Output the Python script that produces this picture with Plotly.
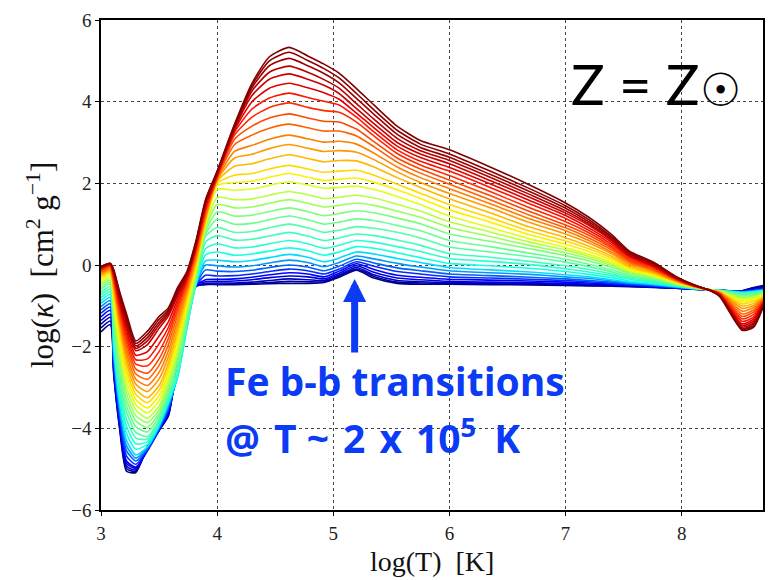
import numpy as np
import plotly.graph_objects as go

# ---------------- data ----------------
# temperature grids, in three parts
logT_cool = [3.00, 3.08, 3.11, 3.16, 3.22, 3.30, 3.40, 3.50, 3.58, 3.66, 3.74, 3.82, 3.90]
logT_mid = [4.00, 4.15, 4.30, 4.45, 4.62, 4.78, 4.92, 5.05, 5.20, 5.35, 5.55, 5.75]
logT_hot = [6.00, 6.35, 6.69, 7.00, 7.20, 7.40, 7.55, 7.75, 7.95, 8.10, 8.25, 8.33, 8.52, 8.62, 8.70]

# cool part: one row per curve (top/dark-red curve first)
kappa_cool = [
    [-0.04, 0.04, -0.12, -0.65, -1.20, -1.86, -1.62, -1.26, -1.05, -0.55, -0.16, 0.62, 1.60],
    [-0.04, 0.04, -0.14, -0.70, -1.28, -1.92, -1.70, -1.33, -1.10, -0.60, -0.19, 0.59, 1.57],
    [-0.05, 0.03, -0.16, -0.75, -1.35, -1.98, -1.78, -1.40, -1.15, -0.65, -0.22, 0.56, 1.54],
    [-0.05, 0.03, -0.18, -0.80, -1.42, -2.04, -1.86, -1.47, -1.20, -0.70, -0.25, 0.53, 1.51],
    [-0.07, 0.02, -0.20, -0.85, -1.50, -2.10, -1.95, -1.55, -1.25, -0.75, -0.28, 0.50, 1.48],
    [-0.08, 0.01, -0.24, -0.92, -1.60, -2.21, -2.12, -1.74, -1.39, -0.84, -0.32, 0.46, 1.43],
    [-0.10, -0.01, -0.28, -1.00, -1.70, -2.32, -2.30, -1.93, -1.53, -0.93, -0.37, 0.42, 1.39],
    [-0.12, -0.02, -0.31, -1.07, -1.80, -2.43, -2.47, -2.12, -1.66, -1.01, -0.41, 0.39, 1.34],
    [-0.14, -0.04, -0.35, -1.15, -1.90, -2.55, -2.65, -2.30, -1.80, -1.10, -0.45, 0.35, 1.30],
    [-0.17, -0.07, -0.41, -1.24, -2.02, -2.67, -2.80, -2.46, -1.95, -1.22, -0.52, 0.29, 1.25],
    [-0.20, -0.10, -0.47, -1.32, -2.15, -2.80, -2.95, -2.63, -2.10, -1.35, -0.60, 0.23, 1.20],
    [-0.23, -0.13, -0.54, -1.41, -2.27, -2.92, -3.10, -2.79, -2.25, -1.47, -0.67, 0.16, 1.15],
    [-0.26, -0.16, -0.60, -1.50, -2.40, -3.05, -3.25, -2.95, -2.40, -1.60, -0.75, 0.10, 1.10],
    [-0.30, -0.19, -0.70, -1.65, -2.55, -3.17, -3.37, -3.07, -2.51, -1.72, -0.84, 0.04, 1.06],
    [-0.35, -0.23, -0.80, -1.80, -2.70, -3.30, -3.50, -3.20, -2.62, -1.85, -0.92, -0.02, 1.03],
    [-0.39, -0.27, -0.90, -1.95, -2.85, -3.42, -3.62, -3.32, -2.74, -1.97, -1.01, -0.09, 0.99],
    [-0.44, -0.32, -1.00, -2.10, -3.00, -3.55, -3.75, -3.45, -2.85, -2.10, -1.10, -0.15, 0.95],
    [-0.49, -0.37, -1.15, -2.28, -3.15, -3.69, -3.86, -3.54, -2.94, -2.21, -1.17, -0.20, 0.89],
    [-0.55, -0.42, -1.30, -2.45, -3.30, -3.82, -3.98, -3.63, -3.03, -2.32, -1.25, -0.25, 0.82],
    [-0.60, -0.47, -1.45, -2.63, -3.45, -3.96, -4.09, -3.71, -3.11, -2.44, -1.32, -0.30, 0.76],
    [-0.67, -0.53, -1.60, -2.80, -3.60, -4.10, -4.20, -3.80, -3.20, -2.55, -1.40, -0.35, 0.70],
    [-0.73, -0.59, -1.72, -2.95, -3.78, -4.24, -4.26, -3.84, -3.25, -2.60, -1.44, -0.38, 0.56],
    [-0.80, -0.65, -1.85, -3.10, -3.95, -4.38, -4.33, -3.88, -3.30, -2.65, -1.48, -0.40, 0.40],
    [-0.87, -0.72, -1.97, -3.25, -4.13, -4.51, -4.39, -3.91, -3.35, -2.70, -1.51, -0.43, 0.25],
    [-0.94, -0.79, -2.10, -3.40, -4.30, -4.65, -4.45, -3.95, -3.40, -2.75, -1.55, -0.45, 0.10],
    [-1.02, -0.87, -2.20, -3.50, -4.43, -4.73, -4.47, -3.97, -3.45, -2.70, -1.45, -0.46, 0.00],
    [-1.10, -0.95, -2.30, -3.60, -4.55, -4.80, -4.50, -4.00, -3.50, -2.65, -1.35, -0.47, -0.12],
    [-1.18, -1.03, -2.40, -3.70, -4.68, -4.88, -4.52, -4.02, -3.55, -2.58, -1.25, -0.49, -0.25],
    [-1.27, -1.11, -2.50, -3.80, -4.80, -4.95, -4.55, -4.05, -3.60, -2.50, -1.15, -0.50, -0.36],
    [-1.36, -1.20, -2.55, -3.85, -4.86, -4.98, -4.52, -4.05, -3.63, -2.45, -1.10, -0.50, -0.41],
    [-1.45, -1.28, -2.60, -3.90, -4.93, -5.02, -4.50, -4.05, -3.65, -2.40, -1.05, -0.51, -0.45],
    [-1.54, -1.37, -2.65, -3.95, -4.99, -5.05, -4.47, -4.05, -3.68, -2.35, -1.00, -0.52, -0.47],
    [-1.64, -1.46, -2.70, -4.00, -5.05, -5.08, -4.45, -4.05, -3.70, -2.30, -0.95, -0.52, -0.48],
]

# middle part: one row per curve (Fe bump region)
kappa_mid = [
    [2.30, 3.45, 4.45, 5.10, 5.33, 5.12, 4.92, 4.70, 4.32, 3.92, 3.40, 3.05],
    [2.28, 3.42, 4.40, 5.00, 5.21, 5.01, 4.81, 4.58, 4.20, 3.80, 3.30, 2.96],
    [2.26, 3.39, 4.34, 4.88, 5.06, 4.88, 4.69, 4.46, 4.08, 3.69, 3.20, 2.88],
    [2.24, 3.36, 4.26, 4.72, 4.87, 4.72, 4.54, 4.33, 3.95, 3.57, 3.10, 2.80],
    [2.22, 3.33, 4.15, 4.55, 4.68, 4.55, 4.40, 4.20, 3.83, 3.46, 3.00, 2.72],
    [2.20, 3.30, 4.00, 4.33, 4.45, 4.34, 4.22, 4.06, 3.72, 3.36, 2.91, 2.63],
    [2.18, 3.25, 3.82, 4.09, 4.21, 4.10, 4.01, 3.92, 3.62, 3.26, 2.82, 2.54],
    [2.16, 3.18, 3.62, 3.86, 3.97, 3.86, 3.78, 3.74, 3.50, 3.16, 2.73, 2.45],
    [2.14, 3.08, 3.40, 3.60, 3.70, 3.60, 3.52, 3.50, 3.33, 3.02, 2.62, 2.35],
    [2.12, 2.95, 3.18, 3.35, 3.45, 3.36, 3.28, 3.28, 3.16, 2.90, 2.52, 2.25],
    [2.10, 2.78, 2.93, 3.08, 3.18, 3.09, 3.01, 3.03, 2.96, 2.74, 2.40, 2.14],
    [2.08, 2.62, 2.71, 2.85, 2.95, 2.86, 2.78, 2.80, 2.76, 2.58, 2.28, 2.02],
    [2.05, 2.42, 2.48, 2.60, 2.70, 2.61, 2.53, 2.56, 2.55, 2.40, 2.14, 1.90],
    [2.00, 2.20, 2.24, 2.35, 2.44, 2.35, 2.27, 2.30, 2.32, 2.20, 1.98, 1.76],
    [1.95, 2.02, 2.05, 2.15, 2.24, 2.15, 2.07, 2.10, 2.13, 2.03, 1.84, 1.63],
    [1.85, 1.83, 1.86, 1.95, 2.04, 1.96, 1.88, 1.90, 1.93, 1.85, 1.68, 1.48],
    [1.65, 1.60, 1.62, 1.71, 1.80, 1.72, 1.63, 1.66, 1.71, 1.64, 1.49, 1.32],
    [1.48, 1.40, 1.42, 1.51, 1.60, 1.51, 1.42, 1.46, 1.52, 1.46, 1.32, 1.17],
    [1.30, 1.20, 1.22, 1.31, 1.40, 1.31, 1.21, 1.26, 1.33, 1.28, 1.15, 1.01],
    [1.12, 1.00, 1.02, 1.11, 1.20, 1.11, 1.00, 1.05, 1.13, 1.09, 0.97, 0.84],
    [0.92, 0.80, 0.82, 0.91, 1.00, 0.91, 0.80, 0.85, 0.94, 0.90, 0.80, 0.66],
    [0.72, 0.61, 0.63, 0.71, 0.80, 0.71, 0.60, 0.66, 0.76, 0.72, 0.61, 0.48],
    [0.52, 0.42, 0.44, 0.52, 0.60, 0.52, 0.41, 0.48, 0.60, 0.56, 0.45, 0.33],
    [0.32, 0.24, 0.27, 0.34, 0.42, 0.35, 0.24, 0.32, 0.45, 0.41, 0.30, 0.18],
    [0.12, 0.08, 0.11, 0.18, 0.26, 0.19, 0.08, 0.17, 0.32, 0.27, 0.16, 0.06],
    [-0.02, -0.05, -0.02, 0.05, 0.12, 0.06, -0.04, 0.06, 0.22, 0.15, 0.04, -0.05],
    [-0.15, -0.16, -0.13, -0.06, 0.00, -0.05, -0.14, -0.03, 0.14, 0.05, -0.07, -0.14],
    [-0.27, -0.26, -0.22, -0.16, -0.10, -0.14, -0.22, -0.10, 0.08, -0.03, -0.16, -0.22],
    [-0.35, -0.34, -0.30, -0.24, -0.19, -0.22, -0.29, -0.15, 0.03, -0.11, -0.25, -0.30],
    [-0.40, -0.39, -0.36, -0.31, -0.27, -0.29, -0.34, -0.20, -0.02, -0.18, -0.32, -0.36],
    [-0.44, -0.44, -0.42, -0.38, -0.34, -0.36, -0.38, -0.24, -0.06, -0.24, -0.38, -0.41],
    [-0.47, -0.46, -0.45, -0.43, -0.40, -0.41, -0.41, -0.27, -0.10, -0.28, -0.42, -0.44],
    [-0.48, -0.48, -0.47, -0.46, -0.45, -0.45, -0.43, -0.30, -0.13, -0.32, -0.45, -0.47],
]

# hot part: one column per temperature of logT_hot (33 curves, top curve first)
kappa_hot = [
    [2.82, 2.72, 2.64, 2.56, 2.48, 2.39, 2.30, 2.19, 2.08, 1.98, 1.87, 1.75, 1.62, 1.48, 1.35, 1.20, 1.06, 0.92, 0.76, 0.60, 0.44, 0.28, 0.16, 0.04, -0.06, -0.14, -0.22, -0.29, -0.35, -0.40, -0.43, -0.45, -0.47],
    [2.40, 2.30, 2.22, 2.15, 2.07, 1.99, 1.90, 1.80, 1.70, 1.60, 1.50, 1.40, 1.28, 1.16, 1.05, 0.92, 0.81, 0.70, 0.58, 0.45, 0.32, 0.19, 0.09, -0.02, -0.12, -0.19, -0.26, -0.32, -0.37, -0.42, -0.44, -0.46, -0.48],
    [1.96, 1.87, 1.80, 1.73, 1.66, 1.58, 1.50, 1.40, 1.31, 1.22, 1.13, 1.04, 0.93, 0.83, 0.74, 0.64, 0.56, 0.48, 0.40, 0.29, 0.20, 0.09, 0.01, -0.08, -0.17, -0.23, -0.30, -0.35, -0.39, -0.43, -0.45, -0.47, -0.49],
    [1.52, 1.45, 1.39, 1.33, 1.27, 1.21, 1.14, 1.06, 0.98, 0.91, 0.84, 0.76, 0.67, 0.59, 0.51, 0.43, 0.37, 0.30, 0.23, 0.14, 0.07, -0.02, -0.09, -0.16, -0.24, -0.29, -0.34, -0.38, -0.42, -0.45, -0.47, -0.48, -0.50],
    [1.17, 1.11, 1.06, 1.01, 0.97, 0.91, 0.85, 0.79, 0.73, 0.66, 0.60, 0.54, 0.46, 0.40, 0.33, 0.26, 0.21, 0.16, 0.10, 0.02, -0.04, -0.11, -0.17, -0.23, -0.29, -0.33, -0.38, -0.41, -0.44, -0.47, -0.48, -0.50, -0.51],
    [0.74, 0.69, 0.66, 0.62, 0.59, 0.55, 0.50, 0.45, 0.41, 0.36, 0.31, 0.27, 0.21, 0.16, 0.11, 0.06, 0.02, -0.02, -0.06, -0.12, -0.17, -0.22, -0.26, -0.31, -0.36, -0.39, -0.42, -0.45, -0.47, -0.49, -0.50, -0.51, -0.52],
    [0.34, 0.31, 0.28, 0.26, 0.23, 0.21, 0.18, 0.14, 0.11, 0.08, 0.05, 0.01, -0.03, -0.06, -0.09, -0.13, -0.16, -0.19, -0.21, -0.25, -0.29, -0.32, -0.35, -0.39, -0.42, -0.44, -0.46, -0.48, -0.49, -0.51, -0.52, -0.52, -0.53],
    [0.08, 0.06, 0.04, 0.02, 0.00, -0.02, -0.04, -0.06, -0.09, -0.11, -0.13, -0.16, -0.19, -0.21, -0.23, -0.26, -0.28, -0.30, -0.32, -0.35, -0.37, -0.40, -0.42, -0.45, -0.47, -0.48, -0.50, -0.51, -0.52, -0.53, -0.54, -0.54, -0.55],
    [-0.28, -0.29, -0.30, -0.31, -0.32, -0.33, -0.34, -0.35, -0.36, -0.37, -0.38, -0.39, -0.40, -0.41, -0.42, -0.44, -0.45, -0.46, -0.47, -0.48, -0.49, -0.50, -0.51, -0.52, -0.53, -0.54, -0.55, -0.55, -0.56, -0.56, -0.57, -0.57, -0.57],
    [-0.48, -0.48, -0.49, -0.49, -0.49, -0.50, -0.50, -0.51, -0.51, -0.51, -0.52, -0.52, -0.53, -0.53, -0.53, -0.54, -0.54, -0.55, -0.55, -0.56, -0.56, -0.56, -0.57, -0.57, -0.58, -0.58, -0.58, -0.58, -0.59, -0.59, -0.59, -0.59, -0.59],
    [-0.63, -0.63, -0.63, -0.63, -0.63, -0.62, -0.62, -0.62, -0.62, -0.62, -0.62, -0.62, -0.62, -0.62, -0.62, -0.62, -0.61, -0.61, -0.61, -0.61, -0.61, -0.61, -0.61, -0.61, -0.61, -0.61, -0.61, -0.61, -0.61, -0.61, -0.61, -0.61, -0.61],
    [-0.78, -0.77, -0.76, -0.75, -0.74, -0.73, -0.72, -0.71, -0.70, -0.69, -0.68, -0.67, -0.67, -0.66, -0.66, -0.65, -0.65, -0.64, -0.64, -0.64, -0.63, -0.63, -0.63, -0.62, -0.62, -0.62, -0.62, -0.62, -0.62, -0.62, -0.62, -0.62, -0.62],
    [-1.60, -1.58, -1.55, -1.52, -1.48, -1.44, -1.38, -1.32, -1.26, -1.20, -1.13, -1.06, -1.00, -0.95, -0.90, -0.86, -0.82, -0.79, -0.76, -0.74, -0.72, -0.70, -0.69, -0.68, -0.67, -0.66, -0.66, -0.65, -0.65, -0.64, -0.64, -0.63, -0.63],
    [-1.52, -1.49, -1.45, -1.41, -1.37, -1.32, -1.27, -1.21, -1.15, -1.10, -1.04, -0.99, -0.94, -0.89, -0.85, -0.82, -0.79, -0.76, -0.74, -0.72, -0.70, -0.68, -0.67, -0.66, -0.65, -0.64, -0.63, -0.62, -0.61, -0.60, -0.58, -0.56, -0.55],
    [-1.04, -1.02, -1.00, -0.98, -0.96, -0.94, -0.92, -0.90, -0.88, -0.86, -0.84, -0.82, -0.80, -0.78, -0.76, -0.74, -0.72, -0.70, -0.68, -0.67, -0.66, -0.65, -0.64, -0.63, -0.62, -0.61, -0.60, -0.59, -0.58, -0.56, -0.54, -0.52, -0.50],
]

x_ticks = [3, 4, 5, 6, 7, 8]
y_ticks = [-6, -4, -2, 0, 2, 4, 6]

# ---------------- styling helpers ----------------
def jet(v):
    r = np.interp(v, [0, 0.35, 0.66, 0.89, 1], [0, 0, 1, 1, 0.5])
    g = np.interp(v, [0, 0.125, 0.375, 0.64, 0.91, 1], [0, 0, 1, 1, 0, 0])
    b = np.interp(v, [0, 0.11, 0.34, 0.65, 1], [0.5, 1, 1, 0, 0])
    return "rgb(%d,%d,%d)" % (round(r * 255), round(g * 255), round(b * 255))

n_curves = len(kappa_cool)
assert len(kappa_mid) == n_curves
for col in kappa_hot:
    assert len(col) == n_curves
logT_all = logT_cool + logT_mid + logT_hot

fig = go.Figure()
i_peak = logT_mid.index(4.62)
for k in reversed(range(n_curves)):
    row = kappa_cool[k] + kappa_mid[k] + [col[k] for col in kappa_hot]
    level = kappa_mid[k][i_peak]
    v = float(np.interp(level, [-0.45, 0.30, 1.40, 2.20, 3.20, 4.20, 5.33],
                        [0.0, 0.36, 0.50, 0.65, 0.78, 0.89, 1.0]))
    fig.add_trace(go.Scatter(
        x=logT_all, y=row, mode="lines",
        line=dict(color=jet(v), width=1.6, shape="spline", smoothing=0.6),
        showlegend=False, hoverinfo="skip"))

serif = "Liberation Serif, DejaVu Serif, serif"
axis_common = dict(
    showline=True, linecolor="black", linewidth=1.5, mirror=True,
    ticks="outside", ticklen=4, tickwidth=1.2, tickcolor="black",
    showgrid=True, gridcolor="#444", gridwidth=1, griddash="dot",
    zeroline=False, tickfont=dict(family=serif, size=19, color="#222"),
)
fig.update_xaxes(range=[3, 8.7], tickvals=x_ticks, ticklabelstandoff=1, **axis_common)
fig.update_yaxes(range=[-6, 6], tickvals=y_ticks, **axis_common)

blue = "#0B3BF5"
hs = "\u200a"  # hair space to widen the annotation's word gaps a little
annotations = [
    dict(text="log(T)&nbsp;&nbsp;[K]", xref="paper", yref="paper", x=0.5, y=-0.105,
         showarrow=False, xanchor="center", yanchor="middle",
         font=dict(family=serif, size=28, color="#111")),
    dict(text="log(<i>κ</i>)&nbsp;&nbsp;[cm<sup>2</sup> g<sup>−1</sup>]", xref="paper", yref="paper",
         x=-0.092, y=0.5, textangle=-90, showarrow=False, xanchor="center", yanchor="middle",
         font=dict(family=serif, size=31, color="#111")),
    dict(text="Z = Z", xref="paper", yref="paper", x=0.709, y=0.87, showarrow=False,
         xanchor="left", yanchor="middle", borderpad=0,
         font=dict(family="Lato, Open Sans, sans-serif", size=56, color="black")),
    dict(text="☉", xref="paper", yref="paper", x=0.9035, y=0.857, showarrow=False,
         xanchor="left", yanchor="middle", borderpad=0,
         font=dict(family="DejaVu Sans", size=46, color="black")),
    dict(text="<b>Fe b-b transitions</b>", xref="paper", yref="paper", x=0.185, y=0.265,
         showarrow=False, xanchor="left", yanchor="middle",
         font=dict(family="Open Sans, Lato, sans-serif", size=39, color=blue)),
    dict(text="<b>@ " + hs + "T ~ " + hs + "2 " + hs + "x " + hs + "10<sup>5</sup> " + hs + hs + "K</b>",
         xref="paper", yref="paper", x=0.185, y=0.152,
         showarrow=False, xanchor="left", yanchor="middle",
         font=dict(family="Open Sans, Lato, sans-serif", size=39, color=blue)),
    dict(text="", x=5.184, y=-0.34, xref="x", yref="y", ax=0, ay=75, axref="pixel", ayref="pixel",
         showarrow=True, arrowhead=2, arrowwidth=7, arrowsize=0.66, arrowcolor=blue, standoff=0),
]

fig.update_layout(
    width=776, height=580,
    margin=dict(l=101, r=13, t=10, b=70),
    paper_bgcolor="white", plot_bgcolor="white",
    annotations=annotations,
)

fig.write_html("out.html")
